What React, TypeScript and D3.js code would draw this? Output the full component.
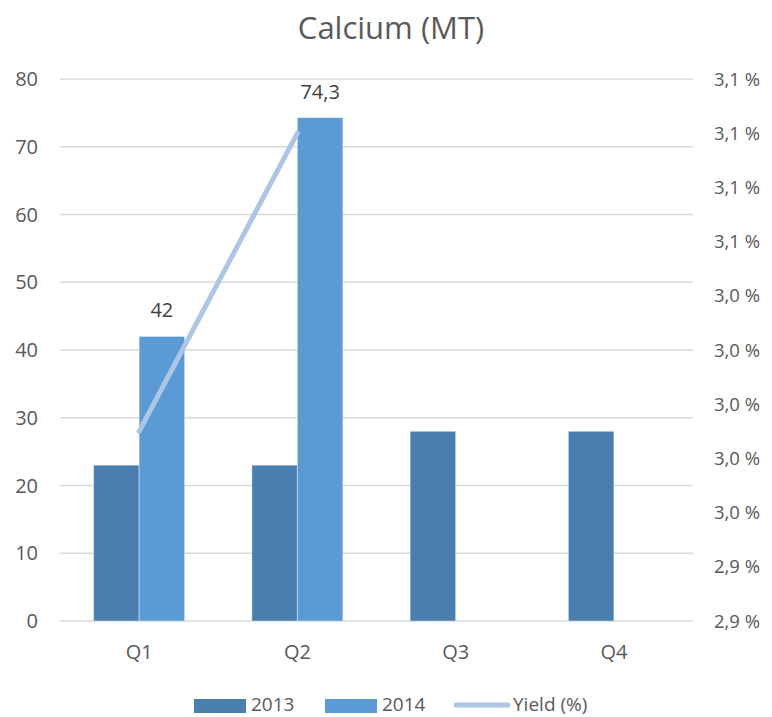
import React from "react";
import * as d3 from "d3";

const categories = ["Q1", "Q2", "Q3", "Q4"];
const series2013: (number | null)[] = [23, 23, 28, 28];
const series2014: (number | null)[] = [42, 74.3, null, null];
const yieldPct: (number | null)[] = [2.99, 3.1, null, null];
const leftTicks = [0, 10, 20, 30, 40, 50, 60, 70, 80];
const rightTicks = [2.92, 2.94, 2.96, 2.98, 3.0, 3.02, 3.04, 3.06, 3.08, 3.1, 3.12];
const seriesNames = ["2013", "2014", "Yield (%)"];

const W = 772;
const H = 717;
const M = { left: 60, right: 79, top: 79, bottom: 96 };
const C2013 = "#4a7eaf";
const C2014 = "#5b9bd5";
const CY = "#aec6e6";
const TXT = "#595959";
const FONT = "'Open Sans', 'Noto Sans', sans-serif";

export default function App() {
  const x0 = d3.scaleBand<string>().domain(categories).range([M.left, W - M.right]).paddingInner(0.425).paddingOuter(0.2125);
  const x1 = d3.scaleBand<string>().domain(["2013", "2014"]).range([0, x0.bandwidth()]);
  const y = d3.scaleLinear().domain([0, 80]).range([H - M.bottom, M.top]);
  const y2 = d3.scaleLinear().domain([2.92, 3.12]).range([H - M.bottom, M.top]);
  const fmt = (v: number) => v.toFixed(1).replace(".", ",") + " %";
  const fmtNum = (v: number) => String(v).replace(".", ",");

  const linePts = categories
    .map((c, i) => ({ c, v: yieldPct[i] }))
    .filter((d) => d.v != null) as { c: string; v: number }[];
  const line = d3
    .line<{ c: string; v: number }>()
    .x((d) => (x0(d.c) as number) + x0.bandwidth() / 2)
    .y((d) => y2(d.v));

  return (
    <svg width={W} height={H} style={{ position: "absolute", left: 0, top: 0, fontFamily: FONT }}>
      <rect width={W} height={H} fill="#fff" />
      <text x={391} y={39} textAnchor="middle" fontSize={31} fill={TXT}>Calcium (MT)</text>
      {leftTicks.map((t) => (
        <g key={"l" + t}>
          <line x1={M.left} x2={W - M.right} y1={y(t)} y2={y(t)} stroke="#d9d9d9" strokeWidth={1.5} />
          <text x={38} y={y(t)} dy="0.36em" textAnchor="end" fontSize={20} fill={TXT}>{t}</text>
        </g>
      ))}
      {rightTicks.map((t) => (
        <text key={"r" + t} x={714} y={y2(t)} dy="0.36em" textAnchor="start" fontSize={18.5} fill={TXT}>{fmt(t)}</text>
      ))}
      {categories.map((c, i) => {
        const bx = x0(c) as number;
        const a = series2013[i];
        const b = series2014[i];
        return (
          <g key={c}>
            {a != null && (
              <rect x={bx + (x1("2013") as number)} y={y(a)} width={x1.bandwidth()} height={y(0) - y(a)} fill={C2013} stroke="#ffffff" strokeOpacity={0.4} strokeWidth={1} />
            )}
            {b != null && (
              <rect x={bx + (x1("2014") as number)} y={y(b)} width={x1.bandwidth()} height={y(0) - y(b)} fill={C2014} stroke="#ffffff" strokeOpacity={0.4} strokeWidth={1} />
            )}
            {b != null && (
              <text x={bx + (x1("2014") as number) + x1.bandwidth() / 2} y={y(b) - 19} textAnchor="middle" fontSize={20} fill="#404040">{fmtNum(b)}</text>
            )}
            <text x={bx + x0.bandwidth() / 2} y={659} textAnchor="middle" fontSize={20} fill={TXT}>{c}</text>
          </g>
        );
      })}
      <path d={line(linePts) || ""} fill="none" stroke={CY} strokeWidth={5} strokeLinecap="round" />
      <g>
        <rect x={194} y={699} width={52} height={14} fill={C2013} />
        <text x={251} y={711} fontSize={19} fill={TXT}>{seriesNames[0]}</text>
        <rect x={325} y={699} width={52} height={14} fill={C2014} />
        <text x={382} y={711} fontSize={19} fill={TXT}>{seriesNames[1]}</text>
        <line x1={456} x2={508} y1={705} y2={705} stroke={CY} strokeWidth={5} strokeLinecap="round" />
        <text x={513} y={711} fontSize={19} fill={TXT}>{seriesNames[2]}</text>
      </g>
    </svg>
  );
}
